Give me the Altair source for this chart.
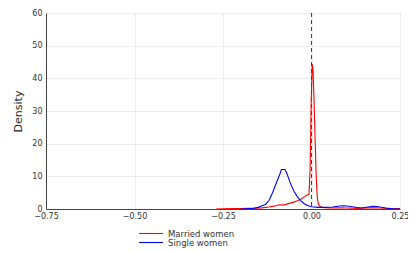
import altair as alt
import pandas as pd

married_x = [-0.27, -0.25, -0.22, -0.20, -0.18, -0.16, -0.14, -0.12, -0.11, -0.10, -0.09, -0.08,
             -0.07, -0.06, -0.05, -0.04, -0.03, -0.02, -0.012, -0.007, -0.004, -0.001, 0.002,
             0.004, 0.007, 0.010, 0.013, 0.016, 0.019, 0.024, 0.03, 0.05, 0.08, 0.10, 0.13,
             0.16, 0.19, 0.22, 0.25]
married_y = [0.0, 0.05, 0.1, 0.15, 0.2, 0.25, 0.35, 0.6, 0.8, 1.0, 1.3, 1.2,
             1.5, 1.8, 2.1, 2.5, 3.0, 3.8, 4.3, 4.6, 12.0, 32.0, 44.4,
             43.0, 34.0, 22.0, 11.0, 4.0, 1.5, 0.8, 0.5, 0.3, 0.4, 0.3, 0.2,
             0.35, 0.3, 0.15, 0.1]

single_x = [-0.20, -0.17, -0.15, -0.14, -0.13, -0.12, -0.11, -0.10, -0.09, -0.085, -0.075,
            -0.07, -0.06, -0.05, -0.04, -0.03, -0.02, -0.01, 0.0, 0.02, 0.04, 0.06, 0.08,
            0.09, 0.10, 0.12, 0.14, 0.16, 0.175, 0.19, 0.21, 0.23, 0.25]
single_y = [0.0, 0.1, 0.5, 1.0, 1.4, 2.6, 5.0, 7.8, 10.5, 12.1, 12.1,
            11.0, 8.0, 5.5, 3.8, 2.5, 1.6, 1.0, 0.7, 0.5, 0.5, 0.6, 0.9,
            1.0, 0.9, 0.6, 0.3, 0.6, 0.8, 0.7, 0.3, 0.05, 0.0]

series = ["Married women", "Single women"]
colors = ["#ff0000", "#0000ff"]

df = pd.concat([
    pd.DataFrame({"x": married_x, "y": married_y, "group": series[0]}),
    pd.DataFrame({"x": single_x, "y": single_y, "group": series[1]}),
])

x_ticks = [-0.75, -0.5, -0.25, 0.0, 0.25]
y_ticks = [0, 10, 20, 30, 40, 50, 60]

lines = alt.Chart(df).mark_line(strokeWidth=1.1, clip=True).encode(
    x=alt.X("x:Q", scale=alt.Scale(domain=[-0.75, 0.25], nice=False, zero=False),
            axis=alt.Axis(values=x_ticks, format=".2f", title=None, labelFontSize=8,
                          labelColor="#333", domainColor="#444", ticks=False,
                          gridColor="#ececec", labelPadding=3, labelFlush=False)),
    y=alt.Y("y:Q", scale=alt.Scale(domain=[0, 60], nice=False),
            axis=alt.Axis(values=y_ticks, title="Density", titleFontSize=11,
                          titleFontWeight="normal", titleColor="#222", labelFontSize=8,
                          labelColor="#333", domainColor="#444", ticks=False,
                          gridColor="#ececec", labelPadding=4, titlePadding=8)),
    color=alt.Color("group:N", scale=alt.Scale(domain=series, range=colors),
                    legend=alt.Legend(title=None, orient="none", legendX=92, legendY=216,
                                      symbolType="stroke", symbolSize=576, clipHeight=9,
                                      symbolStrokeWidth=1.1, labelFontSize=8.5,
                                      labelColor="#333", rowPadding=0, labelOffset=4)),
    order="x:Q",
)

zero_df = pd.DataFrame({"x": [0.0]})
vline = alt.Chart(zero_df).mark_rule(color="#444", strokeDash=[4, 3], strokeWidth=1).encode(
    x="x:Q"
)

chart = (lines + vline).properties(
    width=354, height=196,
    autosize=alt.AutoSizeParams(type="none"),
    padding={"left": 38, "top": 5, "right": 8, "bottom": 40},
).configure_view(stroke=None).configure(font="DejaVu Sans")

chart.save("out.html", embed_options={"renderer": "svg", "actions": False})
